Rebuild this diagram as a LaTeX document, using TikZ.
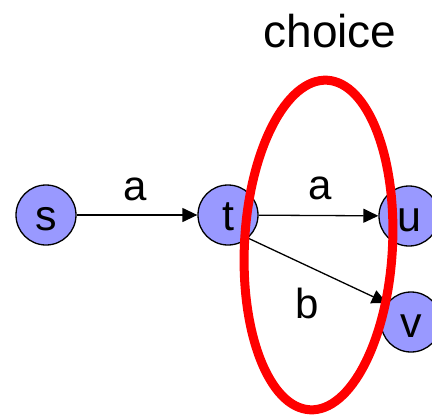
\documentclass[tikz,border=0pt]{standalone}
\usepackage{fontspec}
\setmainfont{Liberation Sans}
\usetikzlibrary{arrows.meta}
\definecolor{statefill}{RGB}{153,153,255}
\tikzset{
  state/.style={circle, draw=black, line width=1.3pt, fill=statefill,
    minimum size=60pt, inner sep=0pt, text height=30pt, text depth=0pt,
    font=\fontsize{43}{50}\selectfont},
  trans/.style={line width=1.3pt, -{Triangle[length=15pt,width=14pt]}},
  lbl/.style={font=\fontsize{42}{50}\selectfont, anchor=base, inner sep=0pt},
  choiceset/.style={draw=red, line width=9pt}
}
\begin{document}
\begin{tikzpicture}[x=1pt,y=1pt]
  \useasboundingbox (0,0) rectangle (432,-416);
  % states
  \node[state] (s) at (46,-215) {s};
  \node[state] (t) at (228,-215) {t};
  \node[state] (u) at (409,-216) {u};
  \node[state] (v) at (411,-322) {v};
  % transitions
  \draw[trans] (s) -- node[lbl, yshift=15pt, xshift=-2pt] {a} (t);
  \draw[trans] (t) -- node[lbl, yshift=16pt, xshift=2pt] {a} (u);
  \draw[trans] (t.-49) -- node[lbl, xshift=-10pt, yshift=-48pt] {b} (v.142);
  % the choice region
  \draw[choiceset, shift={(318.5,-245)}, rotate=-3] (0,0) ellipse [x radius=74, y radius=165];
  \node[lbl, font=\fontsize{46}{54}\selectfont] (choice) at (330,-47) {choice};
\end{tikzpicture}
\end{document}
